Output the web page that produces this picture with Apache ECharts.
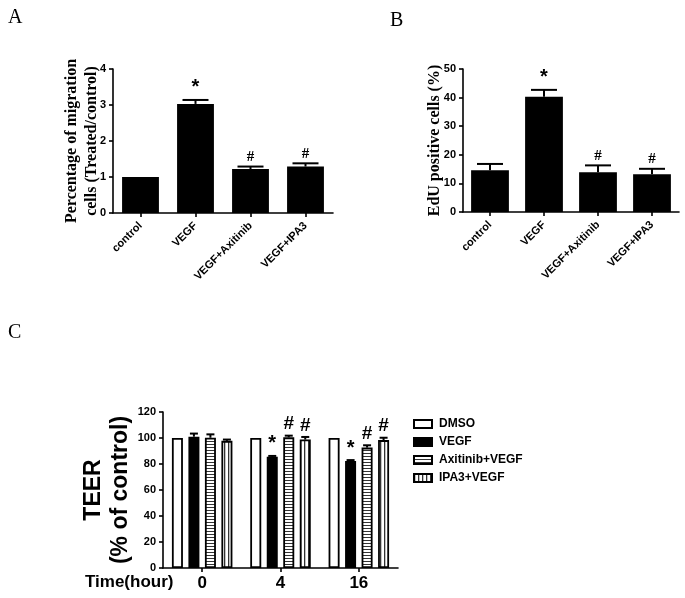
<!DOCTYPE html>
<html>
<head>
<meta charset="utf-8" />
<title>Migration / EdU / TEER</title>
<script src="https://cdn.jsdelivr.net/npm/echarts@6/dist/echarts.min.js"></script>
<style>
  html, body { margin: 0; padding: 0; background: #fff; }
  #main { width: 685px; height: 598px; }
</style>
</head>
<body>
<div id="main"></div>
<script type="text/javascript">

    // panel A + B categories
    const treatCats = ['control', 'VEGF', 'VEGF+Axitinib', 'VEGF+IPA3'];

    // A: migration (treated / control)
    const migValues = [1.0, 3.03, 1.22, 1.29];
    const migErr = [0, 0.11, 0.07, 0.09];
    const migMarks = ['', '*', '#', '#'];

    // B: EdU positive cells (%)
    const eduValues = [14.6, 40.3, 13.9, 13.2];
    const eduErr = [2.2, 2.4, 2.4, 1.9];
    const eduMarks = ['', '*', '#', '#'];

    // C: TEER (% of control)
    const timeCats = ['0', '4', '16'];
    const teerNames = ['DMSO', 'VEGF', 'Axitinib+VEGF', 'IPA3+VEGF'];
    const teerDMSO = [100, 100, 100];
    const teerVEGF = [101.0, 85.6, 82.3];
    const teerAxi = [100.2, 100.5, 92.6];
    const teerIPA = [97.8, 98.8, 98.4];
    const teerDMSOErr = [0, 0, 0];
    const teerVEGFErr = [2.4, 0.6, 0.7];
    const teerAxiErr = [2.6, 1.3, 1.8];
    const teerIPAErr = [1.0, 2.0, 1.8];
    const teerDMSOMarks = ['', '', ''];
    const teerVEGFMarks = ['', '*', '*'];
    const teerAxiMarks = ['', '#', '#'];
    const teerIPAMarks = ['', '#', '#'];

    const SANS = '"Liberation Sans", Arial, sans-serif';
    const SERIF = '"Liberation Serif", "Times New Roman", serif';

    // striped fills for panel C
    function stripes(horizontal) {
        var c = document.createElement('canvas');
        c.width = 4;
        c.height = horizontal ? 3 : 4;
        var ctx = c.getContext('2d');
        ctx.fillStyle = '#fff';
        ctx.fillRect(0, 0, c.width, c.height);
        ctx.fillStyle = '#333';
        if (horizontal) ctx.fillRect(0, 0, c.width, 1);
        else ctx.fillRect(0, 0, 1.3, c.height);
        return { image: c, repeat: 'repeat' };
    }

    // error bar (upper only) + significance mark, drawn through the axes
    function errorSeries(name, gi, values, errs, marks, opts) {
        return {
            name: name,
            type: 'custom',
            xAxisIndex: gi,
            yAxisIndex: gi,
            z: 5,
            silent: true,
            clip: false,
            data: values.map((v, i) => [i, v, v + errs[i]]),
            renderItem: (params, api) => {
                var p0 = api.coord([api.value(0), api.value(1)]);
                var p1 = api.coord([api.value(0), api.value(2)]);
                var x = p0[0] + (opts.offset || 0);
                var kids = [];
                if (api.value(2) > api.value(1)) {
                    kids.push({ type: 'line', shape: { x1: x, y1: p0[1], x2: x, y2: p1[1] },
                        style: { stroke: '#000', lineWidth: opts.lw } });
                    kids.push({ type: 'line', shape: { x1: x - opts.cap / 2, y1: p1[1], x2: x + opts.cap / 2, y2: p1[1] },
                        style: { stroke: '#000', lineWidth: opts.lw } });
                }
                var m = marks[params.dataIndex];
                if (m) {
                    var star = m === '*';
                    kids.push({ type: 'text', x: x, y: p1[1] - (opts.lw / 2) - 1,
                        style: { text: m, fill: '#000', align: 'center', verticalAlign: 'bottom',
                            font: star ? opts.starFont : opts.hashFont } });
                }
                return { type: 'group', children: kids };
            }
        };
    }

    function valueAxis(gi, max, interval) {
        return {
            type: 'value', gridIndex: gi, min: 0, max: max, interval: interval,
            splitLine: { show: false },
            nameMoveOverlap: false,
            axisLine: { show: true, lineStyle: { color: '#000', width: 1.6 } },
            axisTick: { show: true, length: 4, lineStyle: { color: '#000', width: 1.6 } },
            axisLabel: { color: '#000', fontFamily: SANS, fontWeight: 'bold', fontSize: 11, margin: 7 }
        };
    }

    function catAxis(gi, cats, label) {
        return {
            type: 'category', gridIndex: gi, data: cats,
            axisLine: { lineStyle: { color: '#000', width: 1.6 } },
            axisTick: { show: true, alignWithLabel: true, length: 4, lineStyle: { color: '#000', width: 1.6 } },
            axisLabel: Object.assign({ color: '#000', fontFamily: SANS, fontWeight: 'bold', interval: 0 }, label)
        };
    }

    var chart = echarts.init(document.getElementById('main'), null, { renderer: 'canvas' });

    var abOpts = { cap: 26, lw: 2, starFont: 'bold 20px ' + SANS, hashFont: 'bold 15px ' + SERIF };
    var cOpts = { cap: 8, lw: 2, starFont: 'bold 20px ' + SANS, hashFont: 'bold 19px ' + SANS };
    var cOffsets = [-24.75, -8.25, 8.25, 24.75];
    var cFills = ['#fff', '#000', stripes(true), stripes(false)];
    var cValues = [teerDMSO, teerVEGF, teerAxi, teerIPA];
    var cErrs = [teerDMSOErr, teerVEGFErr, teerAxiErr, teerIPAErr];
    var cMarks = [teerDMSOMarks, teerVEGFMarks, teerAxiMarks, teerIPAMarks];

    var series = [
        { name: 'A', type: 'bar', xAxisIndex: 0, yAxisIndex: 0, data: migValues, barCategoryGap: '33%',
          itemStyle: { color: '#000' } },
        errorSeries('A-err', 0, migValues, migErr, migMarks, abOpts),
        { name: 'B', type: 'bar', xAxisIndex: 1, yAxisIndex: 1, data: eduValues, barCategoryGap: '30%',
          itemStyle: { color: '#000' } },
        errorSeries('B-err', 1, eduValues, eduErr, eduMarks, abOpts)
    ];
    teerNames.forEach((n, k) => {
        series.push({ name: n, type: 'bar', xAxisIndex: 2, yAxisIndex: 2, data: cValues[k],
            barWidth: 11, barGap: '50%',
            itemStyle: { color: cFills[k], borderColor: '#000', borderWidth: 1.8 } });
    });
    teerNames.forEach((n, k) => {
        series.push(errorSeries(n + '-err', 2, cValues[k], cErrs[k], cMarks[k],
            Object.assign({ offset: cOffsets[k] }, cOpts)));
    });

    var option = {
        backgroundColor: '#fff',
        animation: false,
        grid: [
            { left: 113, top: 69, width: 220, height: 144 },
            { left: 463, top: 69, width: 216, height: 143 },
            { left: 163, top: 412, width: 235, height: 156 }
        ],
        xAxis: [
            catAxis(0, treatCats, { rotate: 45, fontSize: 11, margin: 11 }),
            catAxis(1, treatCats, { rotate: 45, fontSize: 11, margin: 11 }),
            catAxis(2, timeCats, { fontSize: 17, margin: 7 })
        ],
        yAxis: [
            Object.assign(valueAxis(0, 4, 1), {
                name: 'Percentage of migration\ncells (Treated/control)', nameLocation: 'middle', nameRotate: 90,
                nameGap: 11,
                nameTextStyle: { color: '#000', fontFamily: SERIF, fontWeight: 'bold', fontSize: 16, lineHeight: 20 }
            }),
            Object.assign(valueAxis(1, 50, 10), {
                name: 'EdU positive cells (%)', nameLocation: 'middle', nameRotate: 90, nameGap: 20,
                nameTextStyle: { color: '#000', fontFamily: SERIF, fontWeight: 'bold', fontSize: 16 }
            }),
            Object.assign(valueAxis(2, 120, 20), {
                name: 'TEER\n(% of control)', nameLocation: 'middle', nameRotate: 90, nameGap: 29,
                nameTextStyle: { color: '#000', fontFamily: SANS, fontWeight: 'bold', fontSize: 23, lineHeight: 27 }
            })
        ],
        legend: {
            data: teerNames,
            orient: 'vertical',
            left: 413, top: 417,
            padding: 0,
            itemWidth: 18, itemHeight: 8, itemGap: 4,
            icon: 'rect',
            selectedMode: false,
            textStyle: { color: '#000', fontFamily: SANS, fontWeight: 'bold', fontSize: 12, lineHeight: 14, padding: [0, 0, 0, 2] }
        },
        graphic: [
            { type: 'text', left: 8, top: 8, style: { text: 'A', font: '20px ' + SERIF, fill: '#000' } },
            { type: 'text', left: 390, top: 11, style: { text: 'B', font: '20px ' + SERIF, fill: '#000' } },
            { type: 'text', left: 8, top: 323, style: { text: 'C', font: '20px ' + SERIF, fill: '#000' } },
            { type: 'text', left: 85, top: 574, style: { text: 'Time(hour)', font: 'bold 17px ' + SANS, fill: '#000' } }
        ],
        series: series
    };

    chart.setOption(option);
</script>
</body>
</html>
